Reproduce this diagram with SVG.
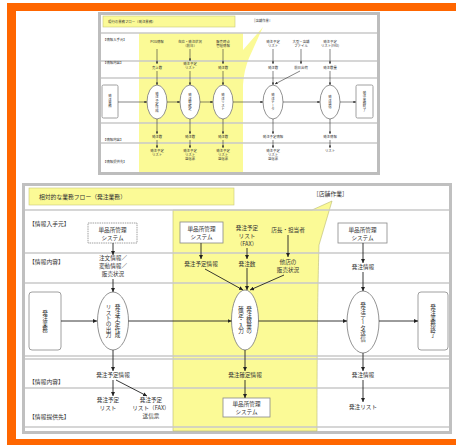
<svg xmlns="http://www.w3.org/2000/svg" width="456" height="445" viewBox="0 0 456 445">
<defs>
<style>
text{font-family:"Noto Sans CJK JP","Noto Sans",sans-serif;fill:#333}
.t{font-size:5.6px;text-anchor:middle}
.lb{font-size:5.8px}
.s{font-size:3.4px;text-anchor:middle}
.sl{font-size:3.4px}
.v{font-size:5.6px;writing-mode:vertical-rl;text-anchor:middle}
.vs{font-size:3.4px;writing-mode:vertical-rl;text-anchor:middle}
.row{stroke:#c8c8c8;stroke-width:1.4;fill:none}
.ar{stroke:#222;stroke-width:0.9;fill:none;marker-end:url(#a)}
.ars{stroke:#333;stroke-width:0.6;fill:none;marker-end:url(#as)}
.el{fill:#fff;stroke:#777;stroke-width:0.8}
.bx{fill:#fff;stroke:#888;stroke-width:0.8}
</style>
<marker id="a" viewBox="0 0 6 6" refX="6" refY="3" markerWidth="4" markerHeight="4" markerUnits="userSpaceOnUse" orient="auto"><path d="M0,0L6,3L0,6z" fill="#222"/></marker>
<marker id="as" viewBox="0 0 6 6" refX="6" refY="3" markerWidth="2.6" markerHeight="2.6" markerUnits="userSpaceOnUse" orient="auto"><path d="M0,0L6,3L0,6z" fill="#333"/></marker>
</defs>
<rect width="456" height="445" fill="#fff"/>
<!-- orange frame -->
<g id="frame" fill="#ff6600">
<rect x="7" y="3" width="449" height="8"/>
<rect x="7" y="3" width="9" height="442"/>
<rect x="7" y="439" width="449" height="6"/>
</g>

<!-- ===== top (small) diagram ===== -->
<g id="top-diagram">
<rect x="99.5" y="13.5" width="279" height="160" fill="#fff" stroke="#bdbdbd" stroke-width="3"/>
<path d="M139,33 H243 V50 L263,27 L249,58 Q244,70 243,85 V172 H139 Z" fill="#fbfa96"/>
<g class="row">
<line x1="101" y1="33" x2="377" y2="33"/>
<line x1="101" y1="61" x2="377" y2="61"/>
<line x1="101" y1="78" x2="377" y2="78"/>
<line x1="101" y1="123" x2="377" y2="123"/>
<line x1="101" y1="143" x2="377" y2="143"/>
</g>
<g id="top-title"><rect x="103" y="16" width="132" height="11" fill="#fbfa96" stroke="#c8c87a" stroke-width="0.6"/>
<text class="sl" x="108" y="23">現行の業務フロー（発注業務）</text></g>
<text class="sl" x="252" y="22">［店舗作業］</text>
<text class="sl" x="103" y="41">【情報入手元】</text>
<text class="sl" x="103" y="64">【情報内容】</text>
<text class="sl" x="103" y="141">【情報内容】</text>
<text class="sl" x="103" y="163">【情報提供先】</text>

<g id="top-left-box"><rect class="bx" x="102" y="85" width="16" height="33" rx="1.5"/><text class="vs" x="110" y="101">発注業務</text></g>
<g id="top-right-box"><rect class="bx" x="356" y="85" width="17" height="33" rx="1.5"/><text class="vs" x="364.5" y="101">発注業務終了</text></g>
<g id="top-e1"><ellipse class="el" cx="157" cy="102" rx="10" ry="17"/><text class="vs" x="157" y="102">発注予定作成</text></g>
<g id="top-e2"><ellipse class="el" cx="190" cy="102" rx="10" ry="17"/><text class="vs" x="190" y="102">発注数確定</text></g>
<g id="top-e3"><ellipse class="el" cx="223" cy="102" rx="10" ry="17"/><text class="vs" x="223" y="102">発注リスト</text></g>
<g id="top-e4"><ellipse class="el" cx="273" cy="102" rx="10" ry="17"/><text class="vs" x="273" y="102">発注データ</text></g>
<g id="top-e5"><ellipse class="el" cx="330" cy="102" rx="10" ry="17"/><text class="vs" x="330" y="102">発注送信</text></g>

<g id="top-texts">
<text class="s" x="157" y="43">POS情報</text>
<text class="s" x="190" y="43">在庫・発注状況</text><text class="s" x="190" y="47">（前日）</text>
<text class="s" x="223" y="43">販売時点</text><text class="s" x="223" y="47">管理情報</text>
<text class="s" x="273" y="43">発注予定</text><text class="s" x="273" y="47">リスト</text>
<text class="s" x="301" y="43">大型・店舗</text><text class="s" x="301" y="47">ファイル</text>
<text class="s" x="330" y="43">発注予定</text><text class="s" x="330" y="47">リスト(FAX)</text>
<text class="s" x="157" y="69">売上数</text>
<text class="s" x="190" y="65">発注予定</text><text class="s" x="190" y="69">リスト</text>
<text class="s" x="223" y="69">発注数</text>
<text class="s" x="273" y="69">発注数</text>
<text class="s" x="301" y="69">前日出荷</text>
<text class="s" x="330" y="69">発注数量</text>
<text class="s" x="157" y="138">発注数</text>
<text class="s" x="190" y="138">発注数</text>
<text class="s" x="223" y="138">発注数</text>
<text class="s" x="273" y="138">発注予定情報</text>
<text class="s" x="330" y="138">発注情報</text>
<text class="s" x="157" y="152">発注予定</text><text class="s" x="157" y="156">リスト</text>
<text class="s" x="190" y="152">発注予定</text><text class="s" x="190" y="156">リスト</text><text class="s" x="190" y="160">送信票</text>
<text class="s" x="223" y="152">発注予定</text><text class="s" x="223" y="156">リスト</text><text class="s" x="223" y="160">送信票</text>
<text class="s" x="273" y="152">発注予定</text><text class="s" x="273" y="156">リスト</text><text class="s" x="273" y="160">送信票</text>
<text class="s" x="330" y="152">リスト</text>
</g>
</g>
<g id="top-connectors">
<path class="ars" d="M157,49V64"/><path class="ars" d="M157,71V85"/>
<path class="ars" d="M190,49V61"/><path class="ars" d="M190,71V85"/>
<path class="ars" d="M223,49V64"/><path class="ars" d="M223,71V85"/>
<path class="ars" d="M273,49V64"/><path class="ars" d="M273,71V85"/>
<path class="ars" d="M301,49V64"/><path class="ars" d="M300,71L275,84"/>
<path class="ars" d="M330,49V64"/><path class="ars" d="M330,71V85"/>
<path class="ars" d="M157,119V134"/><path class="ars" d="M157,140V148"/>
<path class="ars" d="M190,119V134"/><path class="ars" d="M190,140V148"/>
<path class="ars" d="M223,119V134"/><path class="ars" d="M223,140V148"/>
<path class="ars" d="M273,119V134"/><path class="ars" d="M273,140V148"/>
<path class="ars" d="M330,119V134"/><path class="ars" d="M330,140V148"/>
<path class="ars" d="M118,102H147"/><path class="ars" d="M167,102H180"/><path class="ars" d="M200,102H213"/>
<path class="ars" d="M233,102H263"/><path class="ars" d="M283,102H320"/><path class="ars" d="M340,102H356"/>
</g>

<!-- ===== bottom (main) diagram ===== -->
<g id="main-frame">
<rect x="23.5" y="184.5" width="427" height="248" fill="#fff" stroke="#c0c0c0" stroke-width="3"/>
<path d="M173,210 H312 L332,201 L319,245 C318,280 317,330 317,431 H173 Z" fill="#fbfa96" stroke="#b8b870" stroke-width="0.6"/>
<g class="row">
<line x1="25" y1="210" x2="449" y2="210"/>
<line x1="25" y1="253" x2="449" y2="253"/>
<line x1="25" y1="283" x2="449" y2="283"/>
<line x1="25" y1="356" x2="449" y2="356"/>
<line x1="25" y1="359" x2="449" y2="359"/>
<line x1="25" y1="388" x2="449" y2="388"/>
<line x1="25" y1="427" x2="449" y2="427"/>
</g>
</g>
<g id="title"><rect x="29" y="188" width="205" height="17" fill="#fbfa96" stroke="#c8c87a" stroke-width="0.6"/>
<text class="lb" x="39" y="199">相対的な業務フロー（発注業務）</text></g>
<text id="store-label" class="lb" x="313" y="196">［店舗作業］</text>
<g id="row-labels">
<text class="lb" x="29" y="226">【情報入手元】</text>
<text class="lb" x="29" y="264">【情報内容】</text>
<text class="lb" x="29" y="384">【情報内容】</text>
<text class="lb" x="29" y="419">【情報提供先】</text>
</g>

<g id="start-box"><rect class="bx" x="29" y="292" width="32" height="58" rx="3"/><text class="v" x="45" y="321">発注業務</text></g>
<g id="end-box"><rect class="bx" x="418" y="292" width="30" height="58" rx="3"/><text class="v" x="433" y="321">発注業務終了</text></g>
<g id="e1"><ellipse class="el" cx="113" cy="321" rx="15.5" ry="29"/><text class="v" x="117.5" y="321">発注予定作成</text><text class="v" x="108.5" y="321">リストの出力</text></g>
<g id="e2"><ellipse class="el" cx="245" cy="320" rx="13.5" ry="30"/><text class="v" x="249" y="320">発注数量の</text><text class="v" x="241" y="320">確定・入力</text></g>
<g id="e3"><ellipse class="el" cx="363" cy="322" rx="16" ry="31"/><text class="v" x="363" y="322">発注データ送信</text></g>

<g id="n-sys1"><rect class="bx" x="88" y="223" width="49" height="20" stroke-dasharray="1.5 0.8"/><text class="t" x="112.5" y="231.5">単品所管理</text><text class="t" x="112.5" y="239.5">システム</text></g>
<g id="n-info1"><text class="t" x="113" y="260">注文情報／</text><text class="t" x="113" y="268">変動情報／</text><text class="t" x="113" y="276">販売状況</text></g>
<g id="n-plan1"><text class="t" x="113" y="377">発注予定情報</text></g>
<g id="n-list1"><text class="t" x="108" y="402">発注予定</text><text class="t" x="108" y="410">リスト</text></g>
<g id="n-fax1"><text class="t" x="151" y="402">発注予定</text><text class="t" x="151" y="410">リスト（FAX）</text><text class="t" x="151" y="418">送信票</text></g>

<g id="n-sys2"><rect class="bx" x="180" y="222" width="43" height="21"/><text class="t" x="201.5" y="231">単品所管理</text><text class="t" x="201.5" y="239">システム</text></g>
<g id="n-plan2"><text class="t" x="201" y="266">発注予定情報</text></g>
<g id="n-faxlist"><text class="t" x="247" y="230">発注予定</text><text class="t" x="247" y="238">リスト</text><text class="t" x="247" y="246">（FAX）</text></g>
<g id="n-qty"><text class="t" x="247" y="266">発注数</text></g>
<g id="n-staff"><text class="t" x="288" y="232">店長・担当者</text></g>
<g id="n-other"><text class="t" x="288" y="264">他店の</text><text class="t" x="288" y="272">販売状況</text></g>
<g id="n-fix"><text class="t" x="245" y="377">発注確定情報</text></g>
<g id="n-sys3"><rect class="bx" x="223" y="398" width="47" height="19"/><text class="t" x="246.5" y="406">単品所管理</text><text class="t" x="246.5" y="414">システム</text></g>

<g id="n-sys4"><rect class="bx" x="338" y="223" width="49" height="20"/><text class="t" x="362.5" y="231.5">単品所管理</text><text class="t" x="362.5" y="239.5">システム</text></g>
<g id="n-ord1"><text class="t" x="363" y="269">発注情報</text></g>
<g id="n-ord2"><text class="t" x="363" y="377">発注情報</text></g>
<g id="n-ordlist"><text class="t" x="363" y="409">発注リスト</text></g>

<g id="connectors">
<path class="ar" d="M61,321H97"/>
<path class="ar" d="M128.5,321H231.5"/>
<path class="ar" d="M258.5,321H347"/>
<path class="ar" d="M379,321H418"/>
<path class="ar" d="M113,243V255"/>
<path class="ar" d="M113,279V292"/>
<path class="ar" d="M113,350V371"/>
<path class="ar" d="M113,380V396"/>
<path class="ar" d="M116,380L147,396"/>
<path class="ar" d="M201,243V259"/>
<path class="ar" d="M205,269L243,290"/>
<path class="ar" d="M247,248V259"/>
<path class="ar" d="M247,268V290"/>
<path class="ar" d="M288,235V257"/>
<path class="ar" d="M284,275L250,290"/>
<path class="ar" d="M245,350V371"/>
<path class="ar" d="M245,380V398"/>
<path class="ar" d="M363,243V263"/>
<path class="ar" d="M363,272V291"/>
<path class="ar" d="M363,353V371"/>
<path class="ar" d="M363,380V402"/>
</g>
</svg>
